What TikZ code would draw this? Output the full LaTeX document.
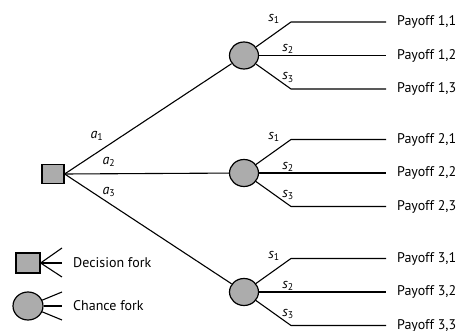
\documentclass[tikz,border=0pt]{standalone}
\usepackage{fontspec}
\setmainfont{PT Sans}
\usetikzlibrary{shapes.geometric}
\tikzset{
  decision/.style={draw=black, line width=1.2pt, fill=gray!65, minimum width=22pt, minimum height=19pt, inner sep=0pt},
  chance/.style={draw=black, line width=1.2pt, fill=gray!65, ellipse, minimum width=29pt, minimum height=27pt, inner sep=0pt},
  branch/.style={line width=1.1pt},
  payoff/.style={anchor=west, font=\fontsize{14}{15}\selectfont, inner sep=0pt},
  lbl/.style={font=\fontsize{14}{15}\selectfont, inner sep=0pt},
  legtext/.style={anchor=west, font=\fontsize{14}{15}\selectfont, inner sep=0pt}
}
\newcommand{\lab}[2]{\textit{#1}\textsubscript{#2}}
\begin{document}
\begin{tikzpicture}[x=1pt,y=-1pt]
\useasboundingbox (0,0) rectangle (467,331);
% decision node
\node[decision] (d) at (53,174) {};
% chance nodes
\node[chance] (c1) at (244,55.5) {};
\node[chance] (c2) at (244,173) {};
\node[chance] (c3) at (244,292) {};
\draw[branch] (d.east) -- (c1);
\draw[branch] (d.east) -- (c2);
\draw[branch] (d.east) -- (c3);
\node[lbl] (a1) at (97,136) {\lab{a}{1}};
\node[lbl] (a2) at (109,162) {\lab{a}{2}};
\node[lbl] (a3) at (109,192) {\lab{a}{3}};
% branches
\foreach \i/\y in {1/55.5,2/173,3/292}{
  \coordinate (b\i1) at (291,\y-33.5);
  \coordinate (e\i1) at (386,\y-33.5);
  \coordinate (e\i2) at (386,\y);
  \coordinate (b\i3) at (291,\y+33.5);
  \coordinate (e\i3) at (386,\y+33.5);
  \draw[branch] (c\i) -- (b\i1) -- (e\i1);
  \draw[branch] (c\i) -- (e\i2);
  \draw[branch] (c\i) -- (b\i3) -- (e\i3);
  \node[lbl] (s\i1) at (274,\y-36.5) {\lab{s}{1}};
  \node[lbl] (s\i2) at (288,\y-6.5) {\lab{s}{2}};
  \node[lbl] (s\i3) at (288,\y+22) {\lab{s}{3}};
  \node[payoff] (p\i1) at (397,\y-33.5) {Payoff \i,1};
  \node[payoff] (p\i2) at (397,\y) {Payoff \i,2};
  \node[payoff] (p\i3) at (397,\y+33.5) {Payoff \i,3};
}
% legend
\node[decision, minimum width=24pt, minimum height=20pt] (ld) at (28,263) {};
\coordinate (ld1) at (62,248);
\coordinate (ld2) at (62,263);
\coordinate (ld3) at (62,277);
\draw[branch] (ld.east) -- (ld1);
\draw[branch] (ld.east) -- (ld2);
\draw[branch] (ld.east) -- (ld3);
\node[legtext] (ldt) at (73,263) {Decision fork};
\node[chance, minimum width=30pt, minimum height=28pt] (lc) at (28,306) {};
\coordinate (lc1) at (62,292);
\coordinate (lc2) at (62,306);
\coordinate (lc3) at (62,320);
\draw[branch] (lc) -- (lc1);
\draw[branch] (lc.east) -- (lc2);
\draw[branch] (lc) -- (lc3);
\node[legtext] (lct) at (73,306) {Chance fork};
\end{tikzpicture}
\end{document}
